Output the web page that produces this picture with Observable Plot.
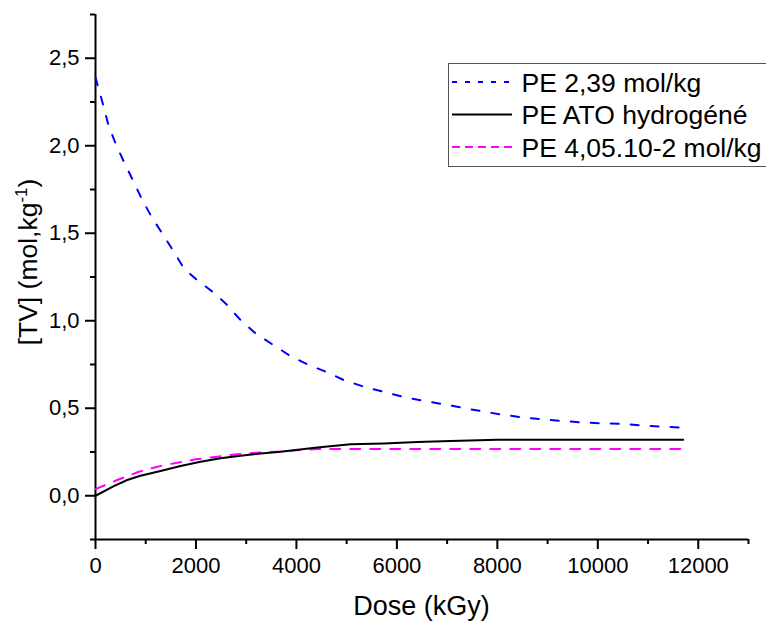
<!DOCTYPE html>
<html>
<head>
<meta charset="utf-8">
<script src="https://cdn.jsdelivr.net/npm/d3@7"></script>
<script src="https://cdn.jsdelivr.net/npm/@observablehq/plot@0.6"></script>
<style>
  html, body { margin: 0; padding: 0; background: #fff; }
  svg { display: block; }
</style>
</head>
<body>
<div id="chart"></div>
<script>
// ---- data ----
const seriesNames = ["PE 2,39 mol/kg", "PE ATO hydrogéné", "PE 4,05.10-2 mol/kg"];
const seriesColors = ["#0000ff", "#000000", "#ff00ff"];

const doseBlue = [0,153,253,398,564,743,916,1116,1328,1540,1760,2038,2357,2590,2888,3187,3520,3851,4217,4582,4946,5345,5731,6109,6508,6906,7305,7703,8101,8500,8898,9297,9707,10094,10492,10890,11321,11700];
const tvBlue   = [2.39,2.233,2.122,2.014,1.909,1.804,1.699,1.594,1.499,1.404,1.299,1.229,1.160,1.099,1.004,0.928,0.865,0.804,0.751,0.709,0.661,0.623,0.594,0.566,0.543,0.524,0.503,0.482,0.463,0.448,0.437,0.427,0.419,0.414,0.410,0.402,0.394,0.389];

const doseBlack = [0,365,631,896,1295,1693,2092,2490,2888,3287,3685,4416,5080,5743,6408,7072,8002,11700];
const tvBlack   = [0,0.055,0.090,0.114,0.141,0.170,0.194,0.214,0.229,0.242,0.251,0.276,0.294,0.299,0.307,0.313,0.320,0.320];

const doseMag = [0,432,863,1229,1627,1992,2424,2822,3221,3619,4000,4416,11700];
const tvMag   = [0.038,0.090,0.137,0.166,0.189,0.208,0.223,0.237,0.246,0.252,0.260,0.267,0.267];

const xTicks = [0,2000,4000,6000,8000,10000,12000];
const xMinor = [1000,3000,5000,7000,9000,11000,13000];
const yTicks = [0,0.5,1.0,1.5,2.0,2.5];
const yMinor = [-0.25,0.25,0.75,1.25,1.75,2.25,2.75];

const toRows = (xs, ys) => xs.map((x, i) => ({dose: x, tv: ys[i]}));
const blue = toRows(doseBlue, tvBlue);
const black = toRows(doseBlack, tvBlack);
const mag = toRows(doseMag, tvMag);

const FONT = "'Liberation Sans', Arial, sans-serif";
const fmt = d => d.toFixed(1).replace(".", ",");

const plot = Plot.plot({
  width: 766,
  height: 621,
  marginLeft: 95,
  marginRight: 18,
  marginTop: 14,
  marginBottom: 82,
  style: {fontFamily: FONT, background: "#fff", color: "#000"},
  x: {domain: [0, 13000]},
  y: {domain: [-0.25, 2.75]},
  marks: [
    Plot.axisX({ticks: xTicks, tickSize: 10, tickPadding: 8, fontSize: 22, strokeWidth: 2, tickFormat: d => String(d), label: null}),
    Plot.axisX({ticks: xMinor, tickSize: 5, strokeWidth: 2, tickFormat: () => "", label: null}),
    Plot.axisY({ticks: yTicks, tickSize: 10, tickPadding: 6, fontSize: 22, strokeWidth: 2, tickFormat: fmt, label: null}),
    Plot.axisY({ticks: yMinor, tickSize: 5, strokeWidth: 2, tickFormat: () => "", label: null}),
    Plot.ruleY([-0.25], {strokeWidth: 2}),
    Plot.ruleX([0], {strokeWidth: 2}),
    Plot.line(mag, {x: "dose", y: "tv", stroke: seriesColors[2], strokeWidth: 2, strokeDasharray: "10 10"}),
    Plot.line(black, {x: "dose", y: "tv", stroke: seriesColors[1], strokeWidth: 2}),
    Plot.line(blue, {x: "dose", y: "tv", stroke: seriesColors[0], strokeWidth: 2, strokeDasharray: "8 12"})
  ]
});

document.getElementById("chart").appendChild(plot);

const svg = d3.select(plot);

// x-axis title
svg.append("text")
  .attr("x", 421.5).attr("y", 615)
  .attr("text-anchor", "middle")
  .attr("font-family", FONT).attr("font-size", 27)
  .text("Dose (kGy)");

// y-axis title with superscript
const yt = svg.append("text")
  .attr("transform", "translate(37,262) rotate(-90)")
  .attr("text-anchor", "middle")
  .attr("font-family", FONT).attr("font-size", 26.5);
yt.append("tspan").text("[TV] (mol,kg");
yt.append("tspan").attr("font-size", 17).attr("dy", -10).text("-1");
yt.append("tspan").attr("dy", 10).text(")");

// legend
const lg = svg.append("g");
lg.append("rect")
  .attr("x", 448.5).attr("y", 63.5).attr("width", 340).attr("height", 103)
  .attr("fill", "#fff").attr("stroke", "#555").attr("stroke-width", 1);
const rowsY = [82, 114.5, 147];
const legendDash = ["5 8", null, "8 5"];
seriesNames.forEach((name, i) => {
  const l = lg.append("line")
    .attr("x1", 452).attr("x2", 512).attr("y1", rowsY[i]).attr("y2", rowsY[i])
    .attr("stroke", seriesColors[i]).attr("stroke-width", 2);
  if (legendDash[i]) l.attr("stroke-dasharray", legendDash[i]);
  lg.append("text")
    .attr("x", 521.5).attr("y", rowsY[i]).attr("dy", "0.36em")
    .attr("text-anchor", "start")
    .attr("font-family", FONT).attr("font-size", 26.5)
    .text(name);
});
</script>
</body>
</html>
